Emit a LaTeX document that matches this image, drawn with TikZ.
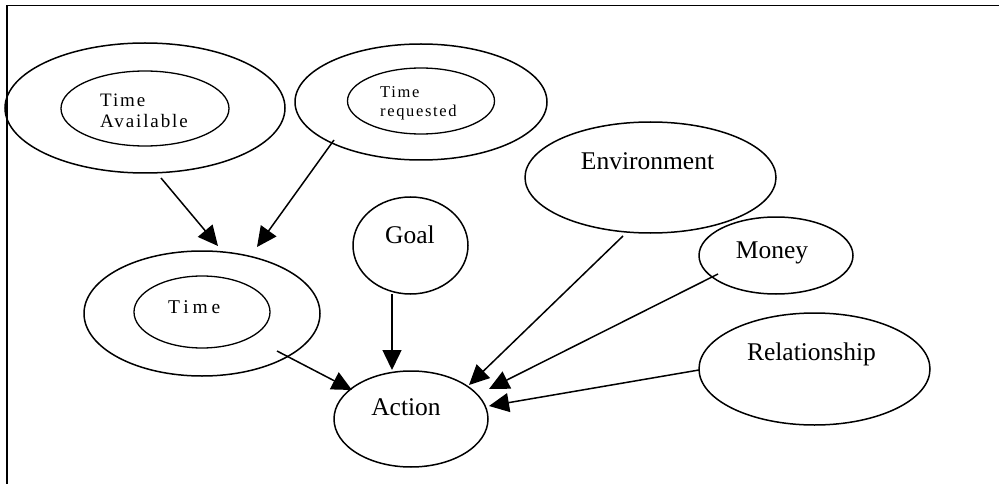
\documentclass[tikz,border=0pt]{standalone}
\usepackage{fontspec}
\setmainfont{Liberation Serif}
\newfontfamily\spacedfont[LetterSpace=10]{Liberation Serif}
\newfontfamily\widefont[LetterSpace=20]{Liberation Serif}
\usetikzlibrary{shapes.geometric,arrows.meta}
\begin{document}
\begin{tikzpicture}[x=1pt,y=-1pt,
  ovalnode/.style={draw, ellipse, line width=1.5pt, inner sep=0pt, outer sep=0pt},
  inneroval/.style={ovalnode, line width=1.3pt},
  lbl/.style={inner sep=0pt, font=\fontsize{25.5}{30}\selectfont},
  arr/.style={line width=1.5pt, -{Triangle[length=20pt,width=19pt]}}]
\useasboundingbox (0,0) rectangle (999,484);

% frame
\draw[line width=1.8pt] (999,5.5) -- (7,5.5) -- (7,484);

% nested ovals
\node[ovalnode, minimum width=280, minimum height=130] (taOut) at (145,108) {};
\node[inneroval, minimum width=168, minimum height=75] (taIn) at (145,108.5) {};
\node[inner sep=0pt, anchor=base west, font=\fontsize{19}{21}\selectfont\spacedfont] (taT1) at (100,107) {Time};
\node[inner sep=0pt, anchor=base west, font=\fontsize{19}{21}\selectfont\spacedfont] (taT2) at (100,128) {Available};

\node[ovalnode, minimum width=252, minimum height=116] (trOut) at (421,102) {};
\node[inneroval, minimum width=147, minimum height=66] (trIn) at (421,101) {};
\node[inner sep=0pt, anchor=base west, font=\fontsize{16.5}{19}\selectfont\spacedfont] (trT1) at (380,98) {Time};
\node[inner sep=0pt, anchor=base west, font=\fontsize{16.5}{19}\selectfont\spacedfont] (trT2) at (380,117) {requested};

\node[ovalnode, minimum width=236, minimum height=125] (timeOut) at (202,313.5) {};
\node[inneroval, minimum width=136, minimum height=72] (timeIn) at (202,312) {};
\node[inner sep=0pt, anchor=base west, font=\fontsize{19.5}{22}\selectfont\widefont] (timeT) at (168,313) {Time};

% single ovals
\node[ovalnode, minimum width=115, minimum height=97] (goal) at (410.5,245.5) {};
\node[lbl, anchor=base] (goalT) at (410,243) {Goal};

\node[ovalnode, minimum width=154, minimum height=96] (action) at (411,419) {};
\node[lbl, anchor=base] (actionT) at (406,415) {Action};

\node[ovalnode, minimum width=251, minimum height=111] (env) at (650.5,177.5) {};
\node[lbl, anchor=base] (envT) at (647.5,169) {Environment};

\node[ovalnode, minimum width=154, minimum height=77] (money) at (776,255.5) {};
\node[lbl, anchor=base] (moneyT) at (772,258) {Money};

\node[ovalnode, minimum width=231, minimum height=112] (rel) at (814.5,369) {};
\node[lbl, anchor=base] (relT) at (811.5,360) {Relationship};

% connectors
\draw[arr] ([shift={(16,70)}]taOut.center) -- ([shift={(16,-67.5)}]timeOut.center);
\draw[arr] ([shift={(-87,38)}]trOut.center) -- ([shift={(55,-66.5)}]timeOut.center);
\draw[arr] ([shift={(-18.5,48.5)}]goal.center) -- ([shift={(-19,-49)}]action.center);
\draw[arr] ([shift={(75,37.5)}]timeOut.center) -- ([shift={(-59,-29)}]action.center);
\draw[arr] ([shift={(-27.5,58.5)}]env.center) -- ([shift={(58,-34)}]action.center);
\draw[arr] ([shift={(-58,18.5)}]money.center) -- ([shift={(78,-30)}]action.center);
\draw[arr] ([shift={(-115.5,1)}]rel.center) -- ([shift={(78,-13)}]action.center);
\end{tikzpicture}
\end{document}
